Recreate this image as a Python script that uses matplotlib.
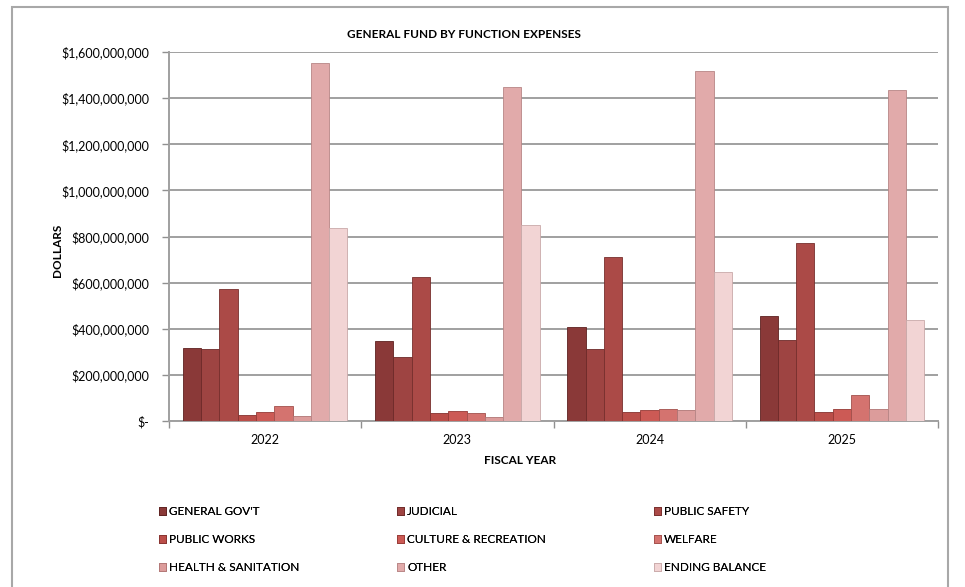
import matplotlib
matplotlib.use("Agg")
import matplotlib.pyplot as plt
import matplotlib.ticker as mticker
from matplotlib.patches import Rectangle
import numpy as np

plt.rcParams["font.family"] = ["Lato", "DejaVu Sans"]

# fiscal years and function categories
years = ["2022", "2023", "2024", "2025"]
functions = ["GENERAL GOV'T", "JUDICIAL", "PUBLIC SAFETY",
             "PUBLIC WORKS", "CULTURE & RECREATION", "WELFARE",
             "HEALTH & SANITATION", "OTHER", "ENDING BALANCE"]

# expenses per function, one value per fiscal year (dollars)
general_gov = [315e6, 347e6, 406e6, 455e6]
judicial = [311e6, 276e6, 311e6, 351e6]
public_safety = [571e6, 626e6, 710e6, 770e6]
public_works = [26e6, 33e6, 38e6, 40e6]
culture_rec = [38e6, 43e6, 46e6, 51e6]
welfare = [65e6, 36e6, 53e6, 113e6]
health_san = [22e6, 19e6, 48e6, 51e6]
other = [1554e6, 1450e6, 1519e6, 1435e6]
ending_balance = [835e6, 849e6, 646e6, 438e6]

series = [general_gov, judicial, public_safety, public_works, culture_rec,
          welfare, health_san, other, ending_balance]

colors = ["#8a3938", "#9e4442", "#ab4a47", "#bb4e49", "#cc5a55",
          "#d4736f", "#dc9c9b", "#e1aaaa", "#f2d4d4"]
edges = ["#5e2221", "#6d2a29", "#772f2d", "#85322f", "#963a36",
         "#a2504c", "#b07574", "#b78686", "#c9a9a9"]

fig = plt.figure(figsize=(9.65, 5.87), dpi=100)
ax = fig.add_axes([169 / 965, 1 - 421 / 587, (938 - 169) / 965, (421 - 52) / 587])

x = np.arange(len(years))
width = 0.095
n = len(series)
for i, (vals, c, ec) in enumerate(zip(series, colors, edges)):
    offs = (i - (n - 1) / 2) * width
    ax.bar(x + offs, vals, width=width, color=c, edgecolor=ec,
           linewidth=0.6, label=functions[i], zorder=3)

ax.set_xlim(-0.5, len(years) - 0.5)
ax.set_ylim(0, 1.6e9)
ax.set_yticks(np.arange(0, 1.6e9 + 1, 2e8))


def dollars(v, pos):
    if v == 0:
        return "$-"
    return "${:,.0f}".format(v)


ax.yaxis.set_major_formatter(mticker.FuncFormatter(dollars))
ax.set_xticks(x)
ax.set_xticklabels(years)
ax.set_xticks(np.arange(-0.5, len(years)), minor=True)
ax.tick_params(axis="x", which="major", length=0, labelsize=9, pad=9)
ax.tick_params(axis="x", which="minor", length=5, color="#909090", width=1)
ax.tick_params(axis="y", length=5, color="#909090", width=1, labelsize=9, pad=9)

ax.grid(axis="y", color="#a0a0a0", linewidth=1.4, zorder=0)
ax.set_axisbelow(True)
for s in ["top", "right"]:
    ax.spines[s].set_visible(False)
for s in ["left", "bottom"]:
    ax.spines[s].set_color("#a0a0a0")
    ax.spines[s].set_linewidth(1.4)

fig.text(464 / 965, 1 - 34 / 587, "GENERAL FUND BY FUNCTION EXPENSES",
         ha="center", va="center", fontsize=8.5, fontweight="bold")
fig.text(57 / 965, 1 - 250 / 587, "DOLLARS", rotation=90,
         ha="center", va="center", fontsize=8.5, fontweight="bold")
fig.text(520 / 965, 1 - 461 / 587, "FISCAL YEAR",
         ha="center", va="center", fontsize=8.5, fontweight="bold")

# legend laid out row-wise: one legend per column
handles, labels = ax.get_legend_handles_labels()
col_x = [159, 397, 654]
for col in range(3):
    idx = [col, col + 3, col + 6]
    leg = fig.legend([handles[k] for k in idx], [labels[k] for k in idx],
                     loc="upper left", bbox_to_anchor=(col_x[col] / 965, 1 - 506 / 587),
                     frameon=False, fontsize=8.5, handlelength=0.6, handleheight=0.6,
                     handletextpad=0.25, labelspacing=1.45,
                     borderpad=0, borderaxespad=0)
    fig.add_artist(leg)

# outer chart border
fig.patches.append(Rectangle((12 / 965, -0.05), (948 - 12) / 965, 1.05 - 7 / 587,
                             transform=fig.transFigure, fill=False,
                             edgecolor="#a8a8a8", linewidth=1.5))

fig.savefig("out.png", dpi=100)
